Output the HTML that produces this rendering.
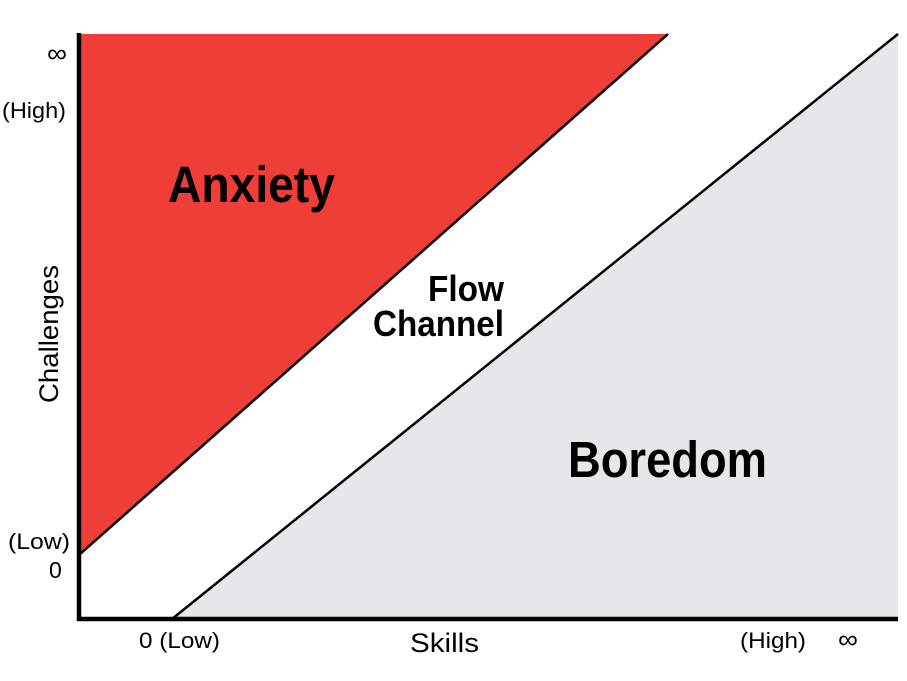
<!DOCTYPE html>
<html><head><style>body{margin:0;background:#fff}</style></head><body>
<svg width="907" height="676" xmlns="http://www.w3.org/2000/svg" font-family="Liberation Sans Narrow, Liberation Sans, sans-serif">
<rect width="907" height="676" fill="#fff"/>
<polygon points="79,34 668,34 79,555" fill="#ef3e37"/>
<line x1="79" y1="555" x2="668" y2="34" stroke="#000" stroke-width="2.5"/>
<polygon points="172,619 898,34 898,619" fill="#e6e7e9"/>
<line x1="172" y1="619" x2="898" y2="34" stroke="#000" stroke-width="2.5"/>
<line x1="79" y1="33" x2="79" y2="621" stroke="#000" stroke-width="4.5"/>
<line x1="77" y1="619" x2="898" y2="619" stroke="#000" stroke-width="4.5"/>
<text x="168" y="202" font-size="51" font-weight="bold" textLength="167" lengthAdjust="spacingAndGlyphs">Anxiety</text>
<text x="568" y="477" font-size="51" font-weight="bold" textLength="199" lengthAdjust="spacingAndGlyphs">Boredom</text>
<text x="428" y="301" font-size="36" font-weight="bold" textLength="76" lengthAdjust="spacingAndGlyphs">Flow</text>
<text x="373" y="336" font-size="36" font-weight="bold" textLength="131" lengthAdjust="spacingAndGlyphs">Channel</text>
<text x="410" y="652" font-size="27" textLength="69" lengthAdjust="spacingAndGlyphs">Skills</text>
<text transform="translate(58,403) rotate(-90)" font-size="27" textLength="138" lengthAdjust="spacingAndGlyphs">Challenges</text>
<text x="47" y="62" font-size="26" textLength="20" lengthAdjust="spacingAndGlyphs">∞</text>
<text x="2" y="118" font-size="22" textLength="64" lengthAdjust="spacingAndGlyphs">(High)</text>
<text x="8" y="549" font-size="22" textLength="62" lengthAdjust="spacingAndGlyphs">(Low)</text>
<text x="49" y="578" font-size="23">0</text>
<text x="139" y="648" font-size="22" textLength="81" lengthAdjust="spacingAndGlyphs">0 (Low)</text>
<text x="740" y="648" font-size="22" textLength="66" lengthAdjust="spacingAndGlyphs">(High)</text>
<text x="838" y="648" font-size="26" textLength="20" lengthAdjust="spacingAndGlyphs">∞</text>
</svg>
</body></html>
